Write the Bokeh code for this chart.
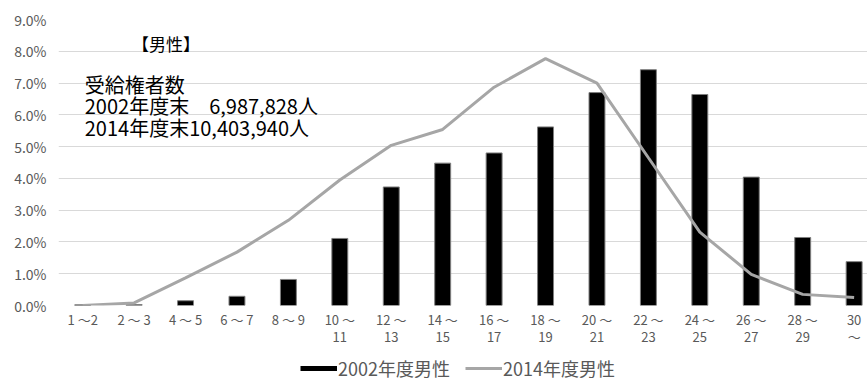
from bokeh.plotting import figure
from bokeh.layouts import column
from bokeh.models import (FixedTicker, PrintfTickFormatter, Label, Legend, LegendItem,
                          ColumnDataSource, Range1d)
from bokeh.embed import file_html
from bokeh.resources import INLINE

# ---- data ----
age_labels = ["1 ～2", "2 ～ 3", "4 ～ 5", "6 ～ 7", "8 ～ 9",
              "10 ～\n11", "12 ～\n13", "14 ～\n15", "16 ～\n17", "18 ～\n19",
              "20 ～\n21", "22 ～\n23", "24 ～\n25", "26 ～\n27", "28 ～\n29", "30\n～"]
male_2002 = [0.02, 0.03, 0.15, 0.29, 0.82, 2.11, 3.73, 4.48, 4.80, 5.62,
             6.70, 7.42, 6.64, 4.04, 2.14, 1.38]
male_2014 = [0.00, 0.08, 0.87, 1.68, 2.68, 3.95, 5.04, 5.54, 6.87, 7.77,
             7.00, 4.65, 2.31, 0.98, 0.35, 0.25]
y_ticks = [0, 1, 2, 3, 4, 5, 6, 7, 8, 9]
series_names = ["2002年度男性", "2014年度男性"]
heading = "【男性】"
note_lines = ["受給権者数", "2002年度末　6,987,828人", "2014年度末10,403,940人"]

idx = list(range(len(age_labels)))
src = ColumnDataSource(dict(x=idx, y2002=male_2002, y2014=male_2014))

FONT = "Noto Sans CJK JP"
GRAY_LINE = "#A6A6A6"

p = figure(width=867, height=350, output_backend="svg", toolbar_location=None,
           x_range=Range1d(-0.47, 15.26), y_range=Range1d(0, 9),
           min_border_left=58, min_border_right=0, min_border_top=19,
           min_border_bottom=45)
p.outline_line_color = None

bars = p.vbar(x="x", top="y2002", width=0.31, source=src,
              fill_color="black", line_color="#7f7f7f", line_width=1)
line = p.line(x="x", y="y2014", source=src, line_color=GRAY_LINE, line_width=3)

# axes
p.xaxis.ticker = FixedTicker(ticks=idx)
p.xaxis.major_label_overrides = {i: lab for i, lab in zip(idx, age_labels)}
p.yaxis.ticker = FixedTicker(ticks=y_ticks)
p.yaxis.formatter = PrintfTickFormatter(format="%.1f%%")
for ax in (p.xaxis[0], p.yaxis[0]):
    ax.axis_line_color = None
    ax.major_tick_line_color = None
    ax.minor_tick_line_color = None
    ax.major_tick_out = 0
    ax.major_tick_in = 0
    ax.minor_tick_out = 0
    ax.major_label_text_font = FONT
    ax.major_label_text_color = "#595959"
p.xaxis.major_label_text_font_size = "13px"
p.xaxis.major_label_text_line_height = 0.9
p.xaxis.major_label_standoff = 4
p.yaxis.major_label_text_font_size = "14px"
p.yaxis.major_label_standoff = 12

p.xgrid.grid_line_color = None
p.ygrid.grid_line_color = "#D9D9D9"
p.ygrid.grid_line_width = 1

# annotations
p.add_layout(Label(x=0.96, y=8.24, text=heading, text_font=FONT,
                   text_font_size="17px", text_baseline="middle", text_color="black"))
for t, yy in zip(note_lines, [6.95, 6.29, 5.59]):
    p.add_layout(Label(x=0.04, y=yy, text=t, text_font=FONT,
                       text_font_size="20px", text_baseline="middle", text_color="black"))

# legend strip below the chart: key renderers use the same data, but this
# strip's ranges keep them out of view so only the legend keys show
lg = figure(width=867, height=28, output_backend="svg", toolbar_location=None,
            x_range=Range1d(-20, -19), y_range=Range1d(-20, -19), min_border=0)
lg.outline_line_color = None
lg.xaxis.visible = False
lg.yaxis.visible = False
lg.xgrid.visible = False
lg.ygrid.visible = False
kb = lg.line(x="x", y="y2002", source=src, line_color="black", line_width=5)
kl = lg.line(x="x", y="y2014", source=src, line_color=GRAY_LINE, line_width=3)
legend = Legend(items=[LegendItem(label=series_names[0], renderers=[kb]),
                       LegendItem(label=series_names[1], renderers=[kl])],
                orientation="horizontal", location=(242, -3),
                glyph_width=37, glyph_height=20, label_height=20,
                label_standoff=1, spacing=15, padding=0, margin=0,
                border_line_color=None, background_fill_alpha=0,
                label_text_font=FONT, label_text_font_size="18px",
                label_text_color="#595959")
lg.add_layout(legend, "center")

layout = column(p, lg, spacing=0)
open("out.html", "w").write(file_html(layout, INLINE))
